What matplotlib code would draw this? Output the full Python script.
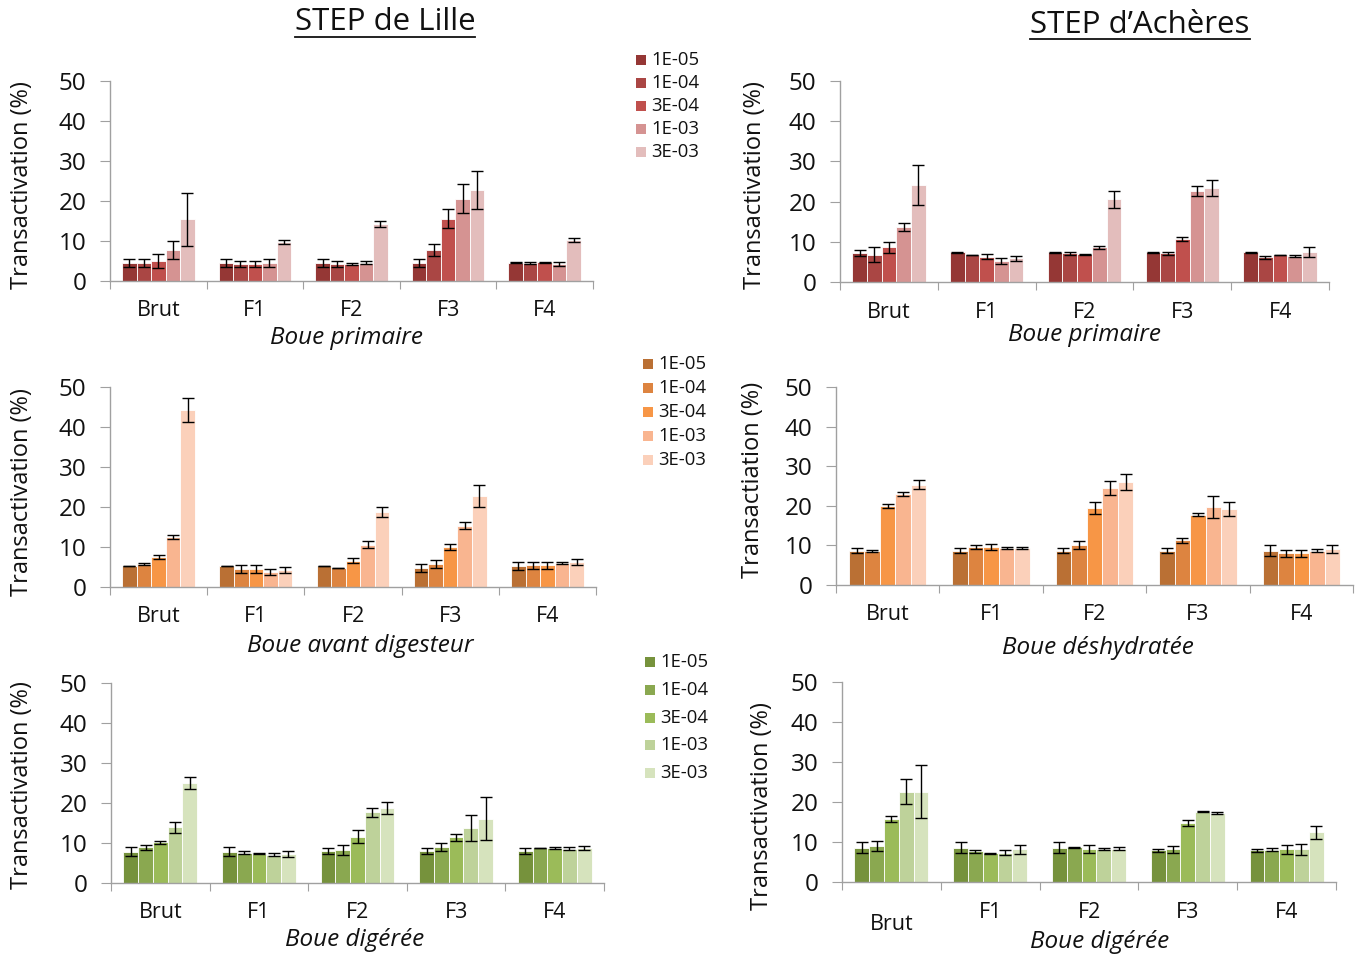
import matplotlib
matplotlib.use("Agg")
import matplotlib.pyplot as plt
from matplotlib.patches import Rectangle
from matplotlib.lines import Line2D
import matplotlib.transforms as mtransforms

plt.rcParams['font.family'] = ['Open Sans', 'DejaVu Sans']

# data
categories = ["Brut", "F1", "F2", "F3", "F4"]
doses = ["1E-05", "1E-04", "3E-04", "1E-03", "3E-03"]

# rows = categories, columns = doses
lille_primaire = [[4.5, 4.5, 5.0, 7.7, 15.4],
                  [4.5, 4.2, 4.2, 4.5, 9.7],
                  [4.5, 4.2, 4.2, 4.6, 14.2],
                  [4.5, 7.7, 15.6, 20.6, 22.7],
                  [4.6, 4.5, 4.7, 4.3, 10.2]]
lille_primaire_err = [[1.1, 1.1, 1.7, 2.3, 6.7],
                      [1.1, 0.8, 0.8, 1.0, 0.5],
                      [1.1, 0.8, 0.3, 0.4, 0.8],
                      [1.1, 1.5, 2.4, 3.6, 4.8],
                      [0.2, 0.3, 0.1, 0.5, 0.5]]

acheres_primaire = [[7.1, 6.8, 8.6, 13.7, 24.2],
                    [7.4, 6.7, 6.3, 5.3, 5.9],
                    [7.4, 7.1, 6.9, 8.6, 20.6],
                    [7.4, 7.1, 10.7, 22.7, 23.4],
                    [7.4, 6.1, 6.7, 6.4, 7.4]]
acheres_primaire_err = [[0.75, 1.8, 1.4, 1.0, 5.0],
                        [0.1, 0.1, 0.6, 0.7, 0.6],
                        [0.1, 0.3, 0.1, 0.3, 2.1],
                        [0.1, 0.4, 0.5, 1.2, 2.0],
                        [0.1, 0.3, 0.1, 0.3, 1.2]]

lille_avant = [[5.25, 5.75, 7.5, 12.6, 44.3],
               [5.25, 4.5, 4.5, 3.75, 4.25],
               [5.25, 4.75, 6.6, 10.6, 18.8],
               [4.75, 5.75, 9.9, 15.3, 22.7],
               [5.25, 5.4, 5.4, 6.0, 6.2]]
lille_avant_err = [[0.1, 0.3, 0.6, 0.5, 3.0],
                   [0.1, 1.1, 1.1, 0.75, 0.8],
                   [0.1, 0.1, 0.7, 0.9, 1.2],
                   [1.0, 1.0, 0.75, 0.9, 2.75],
                   [1.1, 0.8, 0.8, 0.3, 0.75]]

acheres_deshyd = [[8.7, 8.6, 19.9, 23.0, 25.3],
                  [8.7, 9.6, 9.6, 9.4, 9.4],
                  [8.7, 10.0, 19.4, 24.5, 26.1],
                  [8.7, 11.3, 17.8, 19.7, 19.2],
                  [8.7, 8.05, 8.05, 8.7, 9.1]]
acheres_deshyd_err = [[0.6, 0.3, 0.5, 0.4, 1.1],
                      [0.6, 0.4, 0.7, 0.3, 0.3],
                      [0.6, 1.0, 1.5, 1.8, 2.0],
                      [0.6, 0.6, 0.4, 2.9, 1.65],
                      [1.3, 0.9, 0.9, 0.3, 1.0]]

lille_digeree = [[7.8, 8.9, 10.2, 13.9, 25.0],
                 [7.8, 7.6, 7.3, 7.1, 7.25],
                 [8.1, 8.3, 11.6, 17.7, 18.7],
                 [8.1, 9.0, 11.4, 13.7, 16.1],
                 [8.1, 8.75, 8.75, 8.6, 8.75]]
lille_digeree_err = [[1.1, 0.6, 0.4, 1.4, 1.6],
                     [1.1, 0.3, 0.1, 0.3, 0.8],
                     [0.75, 1.3, 1.7, 1.1, 1.5],
                     [0.75, 0.9, 0.8, 3.3, 5.3],
                     [0.75, 0.1, 0.3, 0.3, 0.4]]

acheres_digeree = [[8.6, 9.0, 15.7, 22.6, 22.6],
                   [8.6, 7.7, 7.2, 7.3, 8.15],
                   [8.6, 8.65, 8.15, 8.2, 8.3],
                   [7.9, 8.2, 14.8, 17.6, 17.2],
                   [7.9, 8.1, 8.15, 8.15, 12.4]]
acheres_digeree_err = [[1.35, 1.35, 0.75, 3.1, 6.6],
                       [1.35, 0.4, 0.1, 0.6, 1.1],
                       [1.35, 0.1, 1.0, 0.3, 0.4],
                       [0.4, 0.9, 0.75, 0.1, 0.3],
                       [0.4, 0.4, 1.1, 1.4, 1.55]]

reds = ["#953735", "#AA4644", "#C0504D", "#D59392", "#E3BDBC"]
oranges = ["#BA7034", "#DD8440", "#F79646", "#F9B590", "#FBD0BA"]
greens = ["#76923C", "#8AA850", "#9BBB59", "#BED29A", "#D6E3BD"]

W, H = 1362, 958
fig = plt.figure(figsize=(W / 100, H / 100), dpi=100)


def fx(px):
    return px / W


def fy(py):
    return 1 - py / H


def panel(x0, x1, y_top, y_bot, vals, errs, colors, ylabel, ylab_xy,
          subtitle, sub_xy, lab_off=30, brut_off=None):
    ax = fig.add_axes([fx(x0), fy(y_bot), fx(x1 - x0), (y_bot - y_top) / H])
    ax.set_xlim(0, 5)
    ax.set_ylim(0, 50)
    width = 0.15
    for j in range(5):
        xs = [i + 0.5 + (j - 2) * width for i in range(5)]
        hs = [vals[i][j] for i in range(5)]
        es = [errs[i][j] for i in range(5)]
        ax.bar(xs, hs, width, color=colors[j], edgecolor="white", linewidth=0.6,
               yerr=es, error_kw=dict(ecolor="black", elinewidth=1, capsize=4, capthick=1))
    for s in ["top", "right"]:
        ax.spines[s].set_visible(False)
    for s in ["left", "bottom"]:
        ax.spines[s].set_color("#A0A0A0")
        ax.spines[s].set_linewidth(1)
    ax.set_yticks(range(0, 51, 10))
    ax.tick_params(axis="y", labelsize=17.5, length=7, color="#A0A0A0", pad=10, labelcolor="#111111")
    ax.set_xticks(range(6))
    ax.set_xticklabels([])
    ax.tick_params(axis="x", length=6, color="#A0A0A0")
    ax_h = y_bot - y_top
    tr = mtransforms.blended_transform_factory(ax.transData, ax.transAxes)
    for i, c in enumerate(categories):
        off = lab_off
        if brut_off is not None and i == 0:
            off = brut_off
        ax.text(i + 0.5, -off / ax_h, c, transform=tr, ha="center", va="center",
                fontsize=15.5, color="#111111")
    fig.text(fx(ylab_xy[0]), fy(ylab_xy[1]), ylabel, rotation=90, ha="center", va="center",
             fontsize=17, color="#111111")
    fig.text(fx(sub_xy[0]), fy(sub_xy[1]), subtitle, ha="center", va="center",
             fontsize=17.5, style="italic", color="#111111")
    return ax


def legend(x, y_first, step, colors):
    for k, (lab, col) in enumerate(zip(doses, colors)):
        yc = y_first + k * step
        fig.add_artist(Rectangle((fx(x - 5), fy(yc + 5)), 10 / W, 10 / H,
                                 transform=fig.transFigure, color=col, lw=0))
        fig.text(fx(x + 10), fy(yc), lab, ha="left", va="center", fontsize=13.3, color="#111111")


panel(110, 593, 81, 281, lille_primaire, lille_primaire_err, reds,
      "Transactivation (%)", (22, 185), "Boue primaire", (347, 338), lab_off=29)
panel(840, 1329, 81, 282, acheres_primaire, acheres_primaire_err, reds,
      "Transactivation (%)", (755, 185), "Boue primaire", (1085, 335))
panel(110, 596, 387, 587, lille_avant, lille_avant_err, oranges,
      "Transactivation (%)", (22, 492), "Boue avant digesteur", (360, 646))
panel(836, 1353, 387, 585, acheres_deshyd, acheres_deshyd_err, oranges,
      "Transactiation (%)", (753, 480), "Boue déshydratée", (1098, 648))
panel(111, 604, 683, 883, lille_digeree, lille_digeree_err, greens,
      "Transactivation (%)", (22, 785), "Boue digérée", (355, 940), lab_off=29)
panel(842, 1336, 682, 882, acheres_digeree, acheres_digeree_err, greens,
      "Transactivation (%)", (762, 806), "Boue digérée", (1100, 942), brut_off=43)

legend(641, 60, 23, reds)
legend(648, 364, 24, oranges)
legend(650, 662, 27.8, greens)

# titles, underlined
titles = []
titles.append(fig.text(fx(385), fy(22), "STEP de Lille", ha="center", va="center",
                       fontsize=22.5, color="#111111"))
titles.append(fig.text(fx(1140), fy(25), "STEP d\u2019Achères", ha="center", va="center",
                       fontsize=22.5, color="#111111"))
fig.canvas.draw()
r = fig.canvas.get_renderer()
for t, uy in zip(titles, [37, 39]):
    bb = t.get_window_extent(r)
    fig.add_artist(Line2D([bb.x0 / W, bb.x1 / W], [fy(uy), fy(uy)],
                          transform=fig.transFigure, color="#111111", lw=1.3))

fig.savefig("out.png", dpi=100)
